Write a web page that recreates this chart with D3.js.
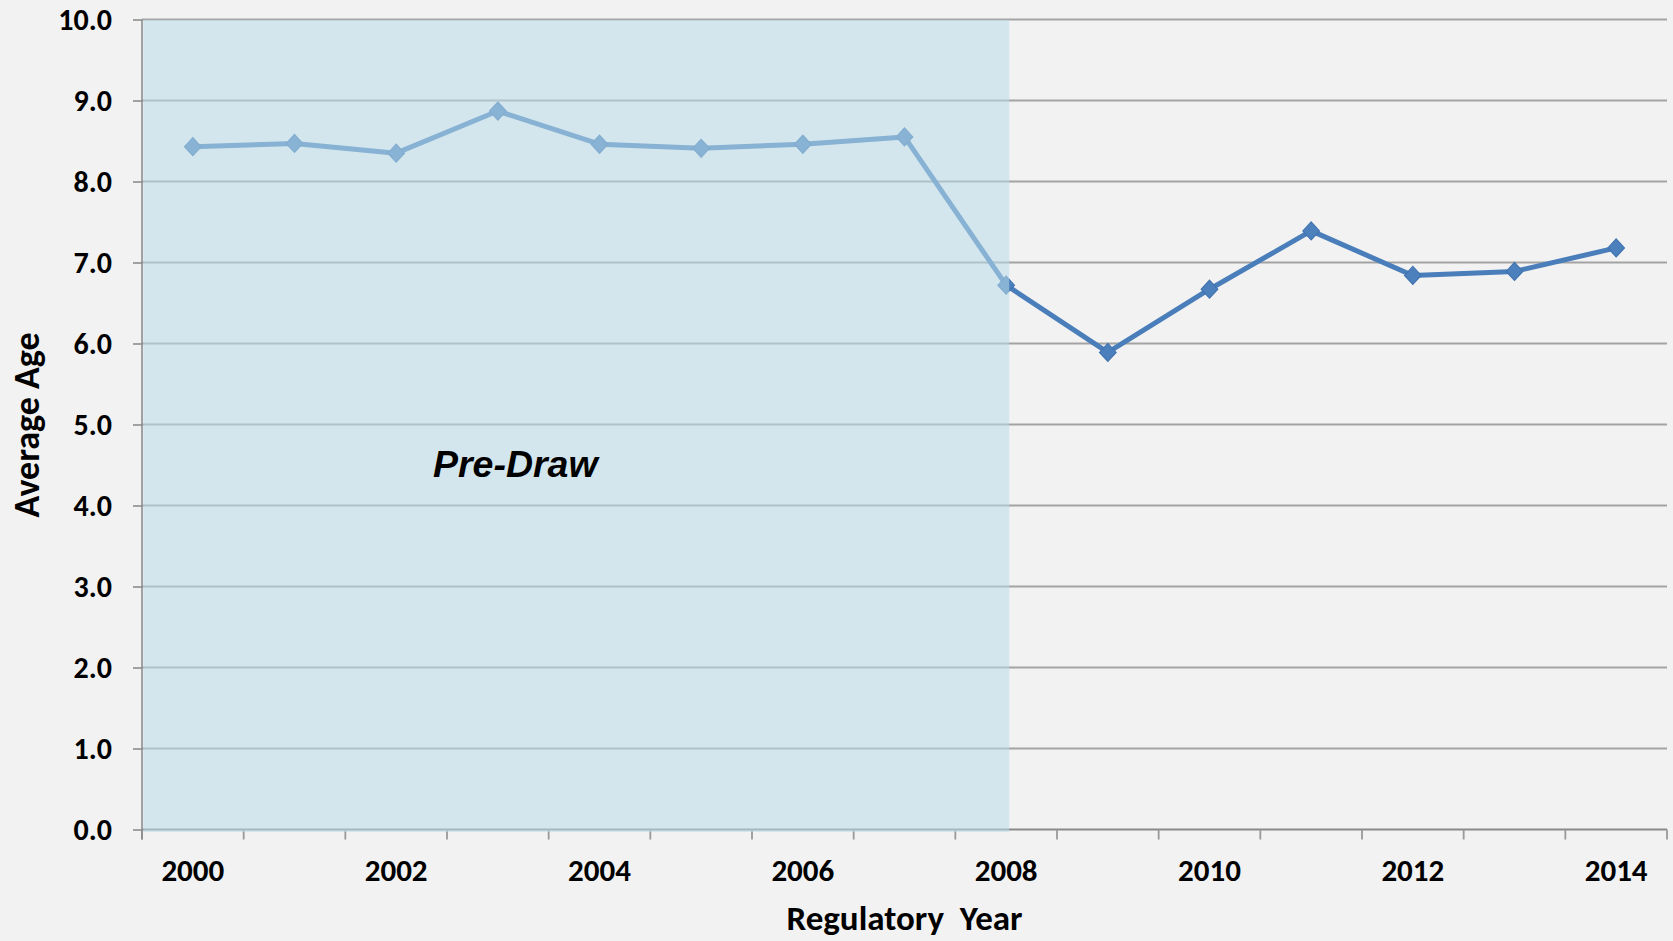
<!DOCTYPE html>
<html>
<head>
<meta charset="utf-8">
<script src="https://cdn.jsdelivr.net/npm/d3@7"></script>
<style>
  html, body { margin: 0; padding: 0; background: #f2f2f2; }
  svg { display: block; }
  text { font-family: Carlito, Calibri, Lato, sans-serif; font-weight: bold; fill: #000; }
</style>
</head>
<body>
<svg id="chart" width="1673" height="941"></svg>
<script>
// ---- data ----
const years = [2000, 2001, 2002, 2003, 2004, 2005, 2006, 2007, 2008, 2009, 2010, 2011, 2012, 2013, 2014];
const averageAge = [8.43, 8.47, 8.35, 8.87, 8.46, 8.41, 8.46, 8.55, 6.72, 5.89, 6.67, 7.39, 6.84, 6.89, 7.18];
const yTicks = [0, 1, 2, 3, 4, 5, 6, 7, 8, 9, 10];
const xLabelYears = [2000, 2002, 2004, 2006, 2008, 2010, 2012, 2014];
const preDrawStart = 2000;
const preDrawEnd = 2008;
const preDrawLabel = "Pre-Draw";
const xTitle = "Regulatory  Year";
const yTitle = "Average Age";

// ---- layout ----
const W = 1673, H = 941;
const mLeft = 142, mRight = 1667, mTop = 19.5, mBottom = 829.5;

const svg = d3.select("#chart");
svg.append("rect").attr("width", W).attr("height", H).attr("fill", "#f2f2f2");

const x = d3.scaleBand().domain(years).range([mLeft, mRight]).padding(0);
const y = d3.scaleLinear().domain([0, 10]).range([mBottom, mTop]);
const cx = d => x(d) + x.bandwidth() / 2;

// gridlines
svg.append("g").selectAll("line").data(yTicks.filter(t => t > 0)).join("line")
  .attr("x1", mLeft).attr("x2", mRight)
  .attr("y1", d => y(d)).attr("y2", d => y(d))
  .attr("stroke", "#a3a3a3").attr("stroke-width", 2);

// x axis (category axis, ticks between categories)
const xAxisG = svg.append("g").attr("transform", `translate(0,${y(0)})`);
xAxisG.append("line").attr("x1", mLeft).attr("x2", mRight).attr("y1", 0).attr("y2", 0)
  .attr("stroke", "#898989").attr("stroke-width", 2.2);
const boundaries = years.map(d => x(d)).concat([x(years[years.length - 1]) + x.bandwidth()]);
xAxisG.selectAll("line.tick").data(boundaries).join("line").attr("class", "tick")
  .attr("x1", d => d).attr("x2", d => d).attr("y1", 0).attr("y2", 10)
  .attr("stroke", "#999").attr("stroke-width", 1.8);

// y axis
const yAxis = d3.axisLeft(y).tickValues(yTicks).tickSize(9).tickFormat("");
const yAxisG = svg.append("g").attr("transform", `translate(${mLeft},0)`).call(yAxis);
yAxisG.select(".domain").remove();
yAxisG.selectAll(".tick line").attr("stroke", "#8c8c8c").attr("stroke-width", 1.6);
yAxisG.append("line").attr("x1", 0).attr("x2", 0).attr("y1", y(10)).attr("y2", y(0) + 10)
  .attr("stroke", "#8c8c8c").attr("stroke-width", 1.6);

// series
const lineGen = d3.line().x((d, i) => cx(years[i])).y(d => y(d));
svg.append("path").datum(averageAge).attr("d", lineGen)
  .attr("fill", "none").attr("stroke", "#4a7ebb").attr("stroke-width", 5)
  .attr("stroke-linejoin", "round");
const diamondType = {
  draw(ctx, size) {
    const rx = 8.3, ry = 9.0;
    ctx.moveTo(0, -ry); ctx.lineTo(rx, 0); ctx.lineTo(0, ry); ctx.lineTo(-rx, 0); ctx.closePath();
  }
};
const diamond = d3.symbol().type(diamondType);
svg.append("g").selectAll("path").data(averageAge).join("path")
  .attr("d", diamond)
  .attr("transform", (d, i) => `translate(${cx(years[i])},${y(d)})`)
  .attr("fill", "#4c80bd").attr("stroke", "#4174b0").attr("stroke-width", 1.2);

// pre-draw shaded overlay (semi-transparent, on top of series)
const shadeX0 = x(preDrawStart) + 1.3;
const shadeX1 = cx(preDrawEnd) + 3;
svg.append("rect")
  .attr("x", shadeX0).attr("y", y(10) + 0.3)
  .attr("width", shadeX1 - shadeX0).attr("height", y(0) + 2.2 - y(10))
  .attr("fill", "rgb(186,220,233)").attr("fill-opacity", 0.55);

// y tick labels
svg.append("g").selectAll("text").data(yTicks).join("text")
  .attr("x", 112).attr("y", d => y(d) + 10.5)
  .attr("text-anchor", "end").style("font-size", "30px")
  .text(d => d3.format(".1f")(d));

// x tick labels
svg.append("g").selectAll("text").data(xLabelYears).join("text")
  .attr("x", d => cx(d)).attr("y", 881)
  .attr("text-anchor", "middle").style("font-size", "31px")
  .text(d => d);

// axis titles
svg.append("text").attr("x", (mLeft + mRight) / 2).attr("y", 930)
  .attr("text-anchor", "middle").style("font-size", "35px").style("white-space", "pre")
  .text(xTitle);
svg.append("text").attr("transform", `translate(39,425) rotate(-90)`)
  .attr("text-anchor", "middle").style("font-size", "36px")
  .text(yTitle);

// pre-draw label
svg.append("text").attr("x", 433).attr("y", 477)
  .style("font-family", "'Liberation Sans', Arial, sans-serif").style("font-style", "italic")
  .style("font-size", "37.5px")
  .text(preDrawLabel);
</script>
</body>
</html>
